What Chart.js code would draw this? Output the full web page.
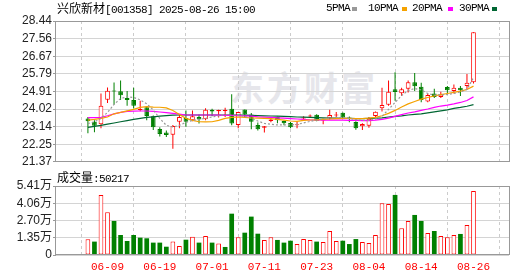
<!DOCTYPE html>
<html><head><meta charset="utf-8">
<script src="https://cdn.jsdelivr.net/npm/chart.js@4.4.1/dist/chart.umd.min.js"></script>
<style>
html,body{margin:0;padding:0;background:#fff;width:530px;height:276px;overflow:hidden;}
#wrap{position:relative;width:530px;height:276px;}
canvas{position:absolute;left:0;}
#cA{top:0;} #cB{top:170px;}
.t{position:absolute;white-space:nowrap;line-height:12px;color:#000;}
.cjk{font-family:"Noto Sans CJK SC";font-size:12px;}
.mono{font-family:"Liberation Mono";font-size:11px;letter-spacing:-0.6px;}
#wm{position:absolute;left:230px;top:70px;font-family:"Noto Sans CJK SC";font-weight:700;font-size:34px;line-height:34px;color:#e6e6eb;letter-spacing:3px;white-space:nowrap;}
.sq{position:absolute;width:5px;height:4px;top:7px;}
</style></head>
<body><div id="wrap">
<div id="wm">东方财富</div>
<canvas id="cA" width="530" height="170"></canvas>
<canvas id="cB" width="530" height="106"></canvas>
<div class="t" id="title" style="left:57px;top:2px"></div>
<div class="t mono" style="left:326px;top:2px">5PMA</div><div class="sq" style="left:352px;background:#999"></div>
<div class="t mono" style="left:368px;top:2px">10PMA</div><div class="sq" style="left:402px;background:#f5a200"></div>
<div class="t mono" style="left:412px;top:2px">20PMA</div><div class="sq" style="left:448px;background:#ff00ff"></div>
<div class="t mono" style="left:459px;top:2px">30PMA</div><div class="sq" style="left:492px;background:#006633"></div>
<div class="t" id="volTitle" style="left:57px;top:171px"></div>
</div>
<script>
const stockName = '兴欣新材';
const stockCode = '[001358] 2025-08-26 15:00';
const volName = '成交量';
const dates = ['06-04','06-05','06-06','06-09','06-10','06-11','06-12','06-13','06-16','06-17','06-18','06-19','06-20','06-23','06-24','06-25','06-26','06-27','06-30',
'07-01','07-02','07-03','07-04','07-07','07-08','07-09','07-10','07-11','07-14','07-15','07-16','07-17','07-18','07-21','07-22','07-23','07-24','07-25','07-28','07-29','07-30','07-31',
'08-01','08-04','08-05','08-06','08-07','08-08','08-11','08-12','08-13','08-14','08-15','08-18','08-19','08-20','08-21','08-22','08-25','08-26'];
const labelDates = ['06-09','06-19','07-01','07-11','07-23','08-04','08-14','08-26'];
const opens  = [23.54,23.38,23.26,24.49,24.93,24.91,24.57,24.47,23.97,24.11,23.66,23.02,22.84,22.73,23.38,23.57,23.46,23.62,23.51,23.98,23.91,23.92,24.03,23.22,24.00,23.75,23.22,23.08,23.42,23.62,23.42,23.32,23.20,23.55,23.64,23.73,23.45,23.55,23.70,23.83,23.60,23.37,23.16,23.18,23.67,24.06,24.24,25.01,24.81,25.04,25.37,25.14,24.40,24.80,24.63,25.12,24.93,25.09,25.17,25.37];
const highs  = [23.62,23.46,24.80,25.10,25.35,25.45,24.93,25.09,24.44,24.16,23.70,23.10,22.94,23.22,23.75,23.95,23.95,23.75,24.06,24.04,23.98,24.08,24.76,23.87,24.00,23.82,23.34,23.17,23.62,23.63,23.45,23.37,23.37,23.66,23.74,23.76,23.55,23.98,23.87,23.85,23.65,23.40,23.30,23.62,23.90,25.09,25.45,25.87,25.09,25.45,25.83,25.34,24.80,25.04,24.89,25.17,25.25,25.17,25.78,27.87];
const lows   = [22.80,22.85,23.05,24.32,24.25,24.47,24.19,24.05,23.91,23.46,22.97,22.64,22.61,22.02,23.05,23.13,23.41,23.29,23.46,23.66,23.59,23.62,23.21,23.05,23.60,23.00,22.94,22.84,23.35,23.30,23.20,23.05,23.05,23.50,23.57,23.40,23.25,23.50,23.60,23.58,23.36,22.98,22.97,23.08,23.62,23.90,24.19,24.44,24.68,24.85,24.93,24.36,24.36,24.57,24.57,24.75,24.80,24.68,25.01,25.30];
const closes = [23.41,23.18,24.19,24.94,24.90,24.71,24.47,24.19,24.01,23.67,23.10,22.77,22.71,23.17,23.62,23.38,23.66,23.49,23.98,23.90,23.97,23.95,23.29,23.87,23.75,23.38,23.00,23.16,23.50,23.46,23.30,23.10,23.22,23.60,23.66,23.43,23.50,23.72,23.74,23.60,23.55,23.05,23.27,23.53,23.88,24.22,24.89,24.88,25.01,25.37,25.16,24.47,24.73,24.63,24.75,24.96,25.09,24.96,25.34,27.87];
const prevClose = 23.30;
const volumes = [12300,10500,47100,33500,26700,15700,11000,15700,13600,13100,9700,9700,6500,10500,7100,12000,14300,9700,14900,9700,9100,6300,32400,13900,17500,30100,16700,11800,13900,11800,9700,11200,8600,12500,11800,10500,10200,18800,11000,11200,8600,12500,10200,9400,15700,40500,40000,47100,20900,26700,31400,26700,17300,18800,14900,13900,15700,16500,23500,50217];
const ma5  = [23.29,23.38,23.55,23.85,24.25,24.55,24.63,24.60,24.48,24.28,23.97,23.55,23.20,23.12,23.20,23.35,23.45,23.50,23.55,23.62,23.68,23.72,23.72,23.70,23.65,23.55,23.42,23.30,23.25,23.22,23.22,23.22,23.25,23.32,23.40,23.47,23.52,23.57,23.60,23.58,23.55,23.48,23.45,23.45,23.52,23.65,24.00,24.35,24.70,24.95,25.05,24.98,24.80,24.72,24.73,24.75,24.80,24.88,25.00,25.60];
const ma10 = [23.46,23.50,23.55,23.62,23.78,23.85,23.93,24.00,24.10,24.14,24.12,24.11,24.08,23.95,23.75,23.55,23.45,23.38,23.37,23.38,23.45,23.55,23.60,23.62,23.60,23.57,23.56,23.55,23.54,23.50,23.46,23.42,23.40,23.45,23.47,23.48,23.50,23.52,23.54,23.55,23.55,23.54,23.54,23.56,23.60,23.68,23.80,23.95,24.12,24.28,24.40,24.52,24.60,24.68,24.74,24.80,24.86,24.92,25.00,25.17];
const ma20 = [23.59,23.59,23.60,23.68,23.78,23.85,23.90,23.91,23.92,23.92,23.90,23.87,23.84,23.80,23.76,23.72,23.72,23.72,23.72,23.72,23.71,23.70,23.70,23.69,23.68,23.66,23.63,23.61,23.60,23.58,23.56,23.54,23.52,23.50,23.48,23.47,23.46,23.46,23.46,23.46,23.45,23.45,23.44,23.44,23.46,23.50,23.56,23.65,23.74,23.82,23.88,23.95,24.02,24.10,24.17,24.22,24.28,24.35,24.45,24.63];
const ma30 = [23.10,23.15,23.20,23.26,23.32,23.38,23.44,23.50,23.55,23.60,23.63,23.66,23.69,23.71,23.72,23.72,23.72,23.72,23.72,23.72,23.72,23.72,23.72,23.72,23.71,23.70,23.69,23.68,23.67,23.66,23.65,23.64,23.62,23.61,23.60,23.59,23.58,23.57,23.56,23.55,23.55,23.54,23.54,23.55,23.56,23.58,23.62,23.65,23.68,23.72,23.75,23.78,23.83,23.88,23.93,23.98,24.05,24.10,24.16,24.24];
const priceTicks = [21.37,22.25,23.14,24.02,24.91,25.79,26.67,27.56,28.44];
const volTicks = [0,13525,27050,40575,54100];
const volTickLabels = ['0','1.35万','2.70万','4.06万','5.41万'];

const UP = '#ff0000', DOWN = '#008000';
const idx = dates.map((d,i)=>i);
const tickIdx = labelDates.map(d=>dates.indexOf(d));
const isUp = idx.map(i=>closes[i] >= opens[i]);
const volUp = idx.map(i=>closes[i] >= (i===0 ? prevClose : closes[i-1]));

document.getElementById('title').innerHTML = '<span class="cjk">'+stockName+'</span><span class="mono">'+stockCode+'</span>';
document.getElementById('volTitle').innerHTML = '<span class="cjk">'+volName+'</span><span class="mono">:'+volumes[volumes.length-1]+'</span>';

const frame = {id:'frame', afterDraw(c){const a=c.chartArea,x=c.ctx;x.save();x.strokeStyle='#999';x.lineWidth=1;
  x.strokeRect(Math.round(a.left)-0.5,Math.round(a.top)+0.5,Math.round(a.right)-Math.round(a.left)+1,Math.round(a.bottom)-Math.round(a.top)-1);x.restore();}};

function xScale(showLabels){
  return {type:'linear', min:-0.55, max:60.1,
    afterBuildTicks:s=>{s.ticks=tickIdx.map(v=>({value:v}));},
    afterFit:s=>{s.height=showLabels?21:0;},
    grid:{color:'#cccccc',drawTicks:false},
    border:{display:false,dash:[3,3]},
    ticks:{display:showLabels,autoSkip:false,maxRotation:0,padding:5,color:'#ff0000',
      font:{family:'Liberation Mono',size:11},callback:v=>dates[v]}};
}
const lineDs = (label,data,color,dash)=>({type:'line',label,data:idx.map(i=>({x:i,y:data[i]})),borderColor:color,borderWidth:1.2,
  borderDash:dash||[],pointRadius:0,tension:0,order:1});

new Chart(document.getElementById('cA'),{
  data:{datasets:[
    {type:'bar',label:'wick',data:idx.map(i=>({x:i,y:[lows[i],highs[i]]})),grouped:false,maxBarThickness:1,inflateAmount:0,
      backgroundColor:idx.map(i=>isUp[i]?UP:DOWN),borderWidth:0,order:3},
    {type:'bar',label:'body',data:idx.map(i=>({x:i,y:[Math.min(opens[i],closes[i]),Math.max(opens[i],closes[i])]})),grouped:false,
      maxBarThickness:5,minBarLength:1,inflateAmount:0,borderSkipped:false,borderWidth:1,
      backgroundColor:idx.map(i=>isUp[i]?'#ffffff':DOWN),borderColor:idx.map(i=>isUp[i]?UP:DOWN),order:2},
    lineDs('5PMA',ma5,'#999999',[2,2]),
    lineDs('10PMA',ma10,'#f5a200'),
    lineDs('20PMA',ma20,'#ff00ff'),
    lineDs('30PMA',ma30,'#006633')
  ]},
  options:{responsive:false,animation:false,events:[],
    layout:{padding:{left:0,right:21,top:21,bottom:4}},
    plugins:{legend:{display:false},tooltip:{enabled:false}},
    scales:{x:xScale(false),
      y:{type:'linear',min:21.37,max:28.44,
        afterBuildTicks:s=>{s.ticks=priceTicks.map(v=>({value:v}));},
        afterFit:s=>{s.width=56;},
        grid:{color:'#d4d4d4',tickLength:3,tickColor:'#999'},border:{display:false},
        ticks:{autoSkip:false,padding:1,color:'#222',font:{family:'Liberation Sans',size:12},callback:v=>v.toFixed(2)}}}},
  plugins:[frame]
});

new Chart(document.getElementById('cB'),{
  data:{datasets:[
    {type:'bar',label:'vol',data:idx.map(i=>({x:i,y:volumes[i]})),grouped:false,maxBarThickness:5,inflateAmount:0,borderSkipped:false,
      borderWidth:idx.map(i=>volUp[i]?1:0),backgroundColor:idx.map(i=>volUp[i]?'#ffffff':DOWN),borderColor:idx.map(i=>volUp[i]?UP:DOWN)}
  ]},
  options:{responsive:false,animation:false,events:[],
    layout:{padding:{left:0,right:21,top:16,bottom:0}},
    plugins:{legend:{display:false},tooltip:{enabled:false}},
    scales:{x:xScale(true),
      y:{type:'linear',min:0,max:54100,
        afterBuildTicks:s=>{s.ticks=volTicks.map(v=>({value:v}));},
        afterFit:s=>{s.width=56;},
        grid:{color:'#d4d4d4',tickLength:3,tickColor:'#999'},border:{display:false},
        ticks:{autoSkip:false,padding:1,color:'#222',font:{family:'"Liberation Sans","Noto Sans CJK SC"',size:12},
          callback:(v,i)=>volTickLabels[volTicks.indexOf(v)]}}}},
  plugins:[frame]
});
</script></body></html>
